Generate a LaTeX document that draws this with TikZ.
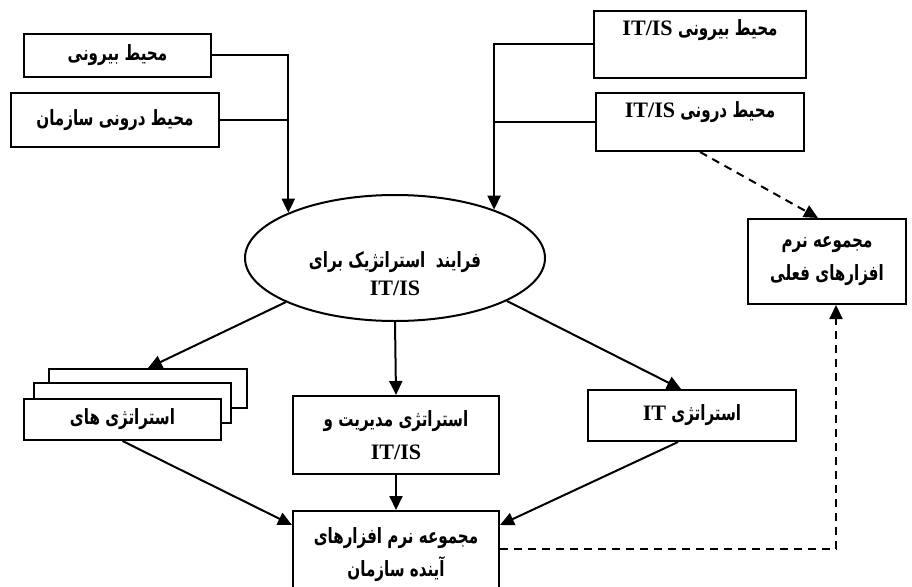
\documentclass[tikz,border=0pt]{standalone}
\usepackage{fontspec}
\usepackage{tikz}
\usetikzlibrary{shapes.geometric, arrows.meta, positioning, calc}
\TeXXeTstate=1
\newfontfamily\farsifont[Script=Arabic,FakeStretch=0.72]{DejaVu Sans}
\newfontfamily\latfont[Scale=1.05]{Liberation Serif}
\newcommand{\fatext}[1]{{\farsifont\bfseries\beginR #1\endR}}
\newcommand{\latext}[1]{\beginL{\latfont\bfseries #1}\endL}

\begin{document}
\begin{tikzpicture}[x=1pt,y=-1pt,
    font=\fontsize{21pt}{33pt}\selectfont,
    box/.style={draw, line width=2pt, fill=white, anchor=north west, align=center},
    arr/.style={line width=2pt, -{Triangle[length=14pt,width=13pt]}},
    dasharr/.style={arr, dash pattern=on 8pt off 6pt}]
    \clip (0,0) rectangle (912,586);
    \fill[white] (0,0) rectangle (912,586);

    % environment boxes
    \node[box, minimum width=187pt, minimum height=43pt] (extorg) at (23,33) {\fatext{محیط بیرونی}};
    \node[box, minimum width=208pt, minimum height=54pt] (intorg) at (10,92) {\fatext{محیط درونی سازمان}};
    \node[box, minimum width=212pt, minimum height=67pt] (extit) at (593,10) {};
    \node (extittxt) at ($(extit.north)+(0,20)$) {\fatext{محیط بیرونی \latext{IT/IS}}};
    \node[box, minimum width=208pt, minimum height=58pt] (intit) at (595,92) {};
    \node (intittxt) at ($(intit.north)+(0,20)$) {\fatext{محیط درونی \latext{IT/IS}}};

    % process
    \node[ellipse, draw, line width=2pt, minimum width=300pt, minimum height=126pt] (proc) at (395,258) {};
    \node[align=center, font=\fontsize{21pt}{28pt}\selectfont] (proctxt) at ($(proc.center)+(0,16)$)
        {\fatext{فرایند\ \ استراتژیک برای}\\\latext{IT/IS}};

    \node[box, minimum width=158pt, minimum height=85pt] (current) at (747,218)
        {\fatext{مجموعه نرم}\\\fatext{افزارهای فعلی}};

    % strategies
    \node[box, minimum width=198pt, minimum height=39pt] (strats3) at (48,368) {};
    \node[box, minimum width=197pt, minimum height=40pt] (strats2) at (33,382) {};
    \node[box, minimum width=197pt, minimum height=41pt] (strats) at (23,398) {\fatext{استراتژی های}};
    \node[box, minimum width=206pt, minimum height=78pt] (mgmt) at (292,395)
        {\fatext{استراتژی مدیریت و}\\\latext{IT/IS}};
    \node[box, minimum width=208pt, minimum height=51pt] (itstr) at (587,389)
        {\fatext{استراتژی \latext{IT}}};
    \node[box, minimum width=206pt, minimum height=88pt] (future) at (292,510)
        {\fatext{مجموعه نرم افزارهای}\\\fatext{آینده سازمان}};

    % inputs
    \draw[arr] (extorg.east) -| (proc.157.6);
    \draw[line width=2pt] (intorg.east) -- (intorg.east -| proc.157.6);
    \draw[arr] (extit.west) -| (proc.26.6);
    \draw[line width=2pt] (intit.west) -- (intit.west -| proc.26.6);

    % outputs
    \draw[arr] (proc.202) -- (strats3.north);
    \draw[arr] (proc.south) -- (mgmt.north);
    \draw[arr] (proc.339) -- ([xshift=-11pt]itstr.north);
    \draw[arr] (strats.south) -- ([yshift=-15pt]future.north west);
    \draw[arr] (mgmt.south) -- (future.north);
    \draw[arr] ([xshift=-14pt]itstr.south) -- ([yshift=-15pt]future.north east);

    % current software
    \draw[dasharr] (intit.south) -- ([xshift=-9pt]current.north);
    \draw[dasharr] ([yshift=6pt]future.east) -| ([xshift=9pt]current.south);
\end{tikzpicture}
\end{document}
